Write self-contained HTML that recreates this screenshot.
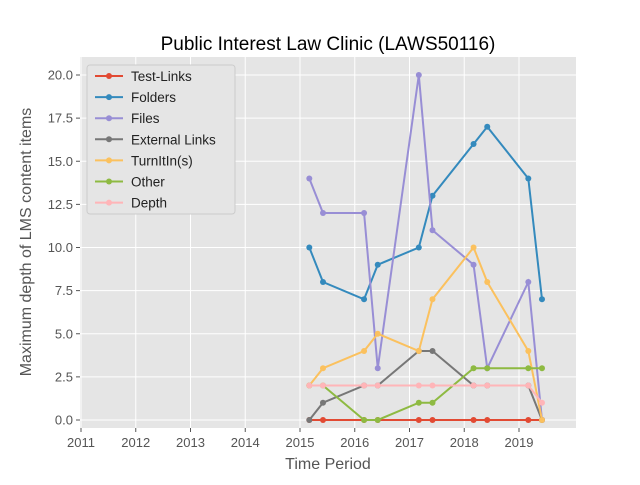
<!DOCTYPE html>
<html><head><meta charset="utf-8"><style>
body{margin:0;background:#fff;}
svg{font-family:"Liberation Sans","DejaVu Sans",sans-serif;}
</style></head><body>
<svg id="chart" width="640" height="480" xmlns="http://www.w3.org/2000/svg">
<rect x="0" y="0" width="640" height="480" fill="#fff"/>
<rect x="80" y="57" width="496" height="371" fill="#e5e5e5"/>
<g id="grid"></g><g id="ticks"></g><g id="series"></g>
<text x="328" y="50" font-size="19" text-anchor="middle" fill="#000">Public Interest Law Clinic (LAWS50116)</text>
<text x="328" y="469" font-size="16" text-anchor="middle" fill="#555">Time Period</text>
<text transform="translate(31,242) rotate(-90)" font-size="16" text-anchor="middle" fill="#555">Maximum depth of LMS content items</text>
<g id="legend"></g>
</svg>
<script>
const dates=[2015.17,2015.42,2016.17,2016.42,2017.17,2017.42,2018.17,2018.42,2019.17,2019.42];
const seriesNames=["Test-Links","Folders","Files","External Links","TurnItIn(s)","Other","Depth"];
const testLinks=[0,0,0,0,0,0,0,0,0,0];
const folders=[10,8,7,9,10,13,16,17,14,7];
const files=[14,12,12,3,20,11,9,3,8,0];
const externalLinks=[0,1,2,2,4,4,2,2,2,0];
const turnitin=[2,3,4,5,4,7,10,8,4,0];
const other=[2,2,0,0,1,1,3,3,3,3];
const depth=[2,2,2,2,2,2,2,2,2,1];
const xTicks=[2011,2012,2013,2014,2015,2016,2017,2018,2019];
const yTicks=[0,2.5,5,7.5,10,12.5,15,17.5,20];
const colors=["#e24a33","#348abd","#988ed5","#777777","#fbc15e","#8eba42","#ffb5b8"];
const allSeries=[testLinks,folders,files,externalLinks,turnitin,other,depth];
const NS="http://www.w3.org/2000/svg";
function X(v){return 81+(v-2011)*54.75;}
function Y(v){return 420-v*17.25;}
function mk(tag,attrs,parent){const e=document.createElementNS(NS,tag);for(const k in attrs)e.setAttribute(k,attrs[k]);parent.appendChild(e);return e;}
const grid=document.getElementById('grid'),ticks=document.getElementById('ticks'),ser=document.getElementById('series'),leg=document.getElementById('legend');
xTicks.forEach(t=>{
 const l=mk('line',{x1:X(t),x2:X(t),y1:57,y2:428,stroke:'#fff','stroke-width':1},grid);
 
 
 mk('line',{x1:X(t),x2:X(t),y1:428,y2:432,stroke:'#555'},ticks);
 const tx=mk('text',{x:X(t),y:447,'font-size':13,'text-anchor':'middle',fill:'#555'},ticks);
 tx.textContent=t;
 
 
});
yTicks.forEach(t=>{
 const l=mk('line',{x1:80,x2:576,y1:Y(t),y2:Y(t),stroke:'#fff','stroke-width':1},grid);
 
 
 mk('line',{x1:76,x2:80,y1:Y(t),y2:Y(t),stroke:'#555'},ticks);
 const tx=mk('text',{x:73,y:Y(t)+4.5,'font-size':13,'text-anchor':'end',fill:'#555'},ticks);
 tx.textContent=t.toFixed(1);
 
 
});
allSeries.forEach((s,i)=>{
 const g=mk('g',{},ser);
 
 
 mk('polyline',{points:s.map((v,j)=>X(dates[j])+','+Y(v)).join(' '),fill:'none',stroke:colors[i],'stroke-width':2},g);
 s.forEach((v,j)=>{const c=mk('circle',{cx:X(dates[j]),cy:Y(v),r:3,fill:colors[i]},g);
  
  });
});
const lb=mk('rect',{x:87,y:65,width:148,height:149,fill:'#e5e5e5',stroke:'#ccc',rx:3},leg);


seriesNames.forEach((n,i)=>{
 const y=76+i*21.1;
 const g=mk('g',{},leg);
 
 
 mk('line',{x1:95,x2:123,y1:y,y2:y,stroke:colors[i],'stroke-width':2},g);
 mk('circle',{cx:109,cy:y,r:3,fill:colors[i]},g);
 const t=mk('text',{x:131,y:y+5,'font-size':13.5,fill:'#222'},g);
 t.textContent=n;
});
</script>
</body></html>
